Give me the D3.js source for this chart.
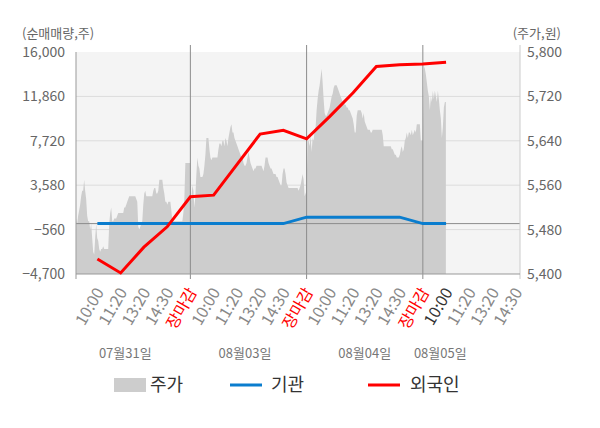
<!DOCTYPE html>
<html>
<head>
<meta charset="utf-8">
<script src="https://cdn.jsdelivr.net/npm/d3@7"></script>
<style>
  body { margin: 0; background: #fff; }
  text { font-family: "Noto Sans CJK KR", "Noto Sans", sans-serif; }
</style>
</head>
<body>
<div class="container"></div>
<script>
// 주가 (price), one array per trading day, roughly one point per pixel column
const day1Prices = [
  5500, 5490, 5505, 5515, 5525, 5540, 5550, 5550, 5570, 5550, 5535, 5505, 5495, 5495, 5480, 5490,
  5465, 5440, 5435, 5465, 5490, 5465, 5460, 5445, 5440, 5445, 5445, 5450, 5445, 5445, 5445, 5445,
  5445, 5490, 5510, 5520, 5495, 5495, 5500, 5500, 5500, 5505, 5510, 5510, 5510, 5510, 5510, 5510,
  5520, 5520, 5525, 5530, 5535, 5540, 5540, 5540, 5540, 5540, 5540, 5540, 5535, 5530, 5485, 5480,
  5485, 5490, 5495, 5525, 5545, 5550, 5540, 5540, 5540, 5540, 5540, 5540, 5540, 5550, 5555, 5555,
  5545, 5545, 5550, 5570, 5570, 5570, 5570, 5555, 5545, 5530, 5530, 5525, 5530, 5530, 5530, 5515,
  5495, 5495, 5495, 5495, 5495, 5495, 5495, 5495, 5495, 5495, 5495, 5510, 5535, 5600, 5600, 5600,
  5600, 5600, 5600
];
const day2Prices = [
  5530, 5560, 5550, 5520, 5540, 5580, 5610, 5595, 5590, 5575, 5575, 5575, 5580, 5595, 5615, 5645,
  5645, 5645, 5625, 5610, 5605, 5610, 5610, 5610, 5610, 5610, 5610, 5625, 5635, 5635, 5630, 5640,
  5640, 5630, 5645, 5640, 5630, 5645, 5655, 5665, 5670, 5655, 5655, 5645, 5640, 5635, 5630, 5625,
  5620, 5615, 5610, 5610, 5600, 5595, 5595, 5600, 5610, 5620, 5610, 5600, 5595, 5590, 5585, 5590,
  5590, 5595, 5595, 5595, 5595, 5595, 5595, 5590, 5585, 5595, 5610, 5610, 5610, 5600, 5595, 5590,
  5590, 5585, 5580, 5580, 5580, 5575, 5575, 5570, 5565, 5560, 5560, 5580, 5590, 5590, 5580, 5565,
  5560, 5555, 5555, 5555, 5555, 5555, 5555, 5555, 5555, 5555, 5555, 5550, 5555, 5560, 5570, 5580,
  5570, 5540, 5545, 5550
];
const day3Prices = [
  5640, 5640, 5630, 5650, 5620, 5645, 5640, 5660, 5665, 5695, 5715, 5730, 5740, 5755, 5770, 5745,
  5715, 5690, 5685, 5685, 5690, 5695, 5700, 5710, 5720, 5725, 5735, 5740, 5740, 5740, 5735, 5730,
  5725, 5720, 5715, 5710, 5710, 5705, 5705, 5700, 5700, 5695, 5695, 5690, 5685, 5680, 5670, 5655,
  5655, 5685, 5695, 5695, 5695, 5695, 5690, 5680, 5690, 5675, 5670, 5665, 5660, 5660, 5660, 5655,
  5655, 5660, 5660, 5660, 5660, 5660, 5660, 5660, 5660, 5660, 5660, 5650, 5630, 5630, 5630, 5630,
  5630, 5630, 5630, 5630, 5625, 5625, 5620, 5615, 5615, 5610, 5610, 5610, 5615, 5625, 5630, 5620,
  5625, 5640, 5645, 5655, 5645, 5655, 5655, 5650, 5660, 5650, 5655, 5660, 5655, 5670, 5670, 5670,
  5670, 5640, 5640, 5640
];
const day4Prices = [
  5775, 5770, 5760, 5745, 5730, 5720, 5695, 5720, 5710, 5730, 5715, 5730, 5720, 5710, 5730, 5715,
  5695, 5680, 5645, 5665, 5700, 5710, 5710
];

// x axis: 5 slots per day, slot 5 = 장마감
const slotLabels = [
  '10:00', '11:20', '13:20', '14:30', '장마감',
  '10:00', '11:20', '13:20', '14:30', '장마감',
  '10:00', '11:20', '13:20', '14:30', '장마감',
  '10:00', '11:20', '13:20', '14:30'
];
const currentSlot = 16;
const dateLabels = ['07월31일', '08월03일', '08월04일', '08월05일'];
const dateSlots = [2.2, 7.35, 12.5, 15.75];

// 순매매량 (net buying), one value per labelled slot 1..16
const lineSlots = d3.range(1, 17);
const foreign = [-3300, -4600, -2200, -300, 2500, 2650, 5500, 8350, 8700, 7900, 10000, 12200, 14650, 14800, 14880, 15050];
const institution = [0, 0, 0, 0, 0, 0, 0, 0, 0, 600, 600, 600, 600, 600, 0, 0];

const leftTicks = [-4700, -560, 3580, 7720, 11860, 16000];
const rightTicks = [5400, 5480, 5560, 5640, 5720, 5800];

const width = 600;
const height = 428;
const plot = { left: 76, right: 520, top: 52, bottom: 274 };
const pointsPerDay = 116;

const x = d3.scaleLinear().domain([0.08, 19.18]).range([plot.left, plot.right]);
const yL = d3.scaleLinear().domain([-4700, 16000]).range([plot.bottom, plot.top]);
const yR = d3.scaleLinear().domain([5400, 5800]).range([plot.bottom, plot.top]);

// place each day's prices on the slot axis
const step = 5 / pointsPerDay;
const days = [day1Prices, day2Prices, day3Prices, day4Prices];
const prices = [];
days.forEach((arr, d) => {
  const n = arr.length;
  arr.forEach((p, i) => {
    const s = d < 3 ? 5 * (d + 1) - (n - 1 - i) * step : 5 * d + (i + 1) * step;
    prices.push({ s, p });
  });
});

const svg = d3.select('.container')
  .append('svg')
  .attr('width', width)
  .attr('height', height)
  .style('display', 'block');

svg.append('rect')
  .attr('x', plot.left).attr('y', plot.top)
  .attr('width', plot.right - plot.left).attr('height', plot.bottom - plot.top)
  .attr('fill', '#f4f4f4');

// grid
svg.append('g')
  .selectAll('line')
  .data(leftTicks.slice(1, -1))
  .enter()
  .append('line')
  .attr('x1', plot.left).attr('x2', plot.right)
  .attr('y1', d => yL(d)).attr('y2', d => yL(d))
  .attr('stroke', '#dcdcdc');

// price area
const area = d3.area()
  .x(d => x(d.s))
  .y0(plot.bottom)
  .y1(d => yR(d.p));

svg.append('path')
  .attr('d', area(prices))
  .attr('fill', '#cdcdcd');

// zero line
svg.append('line')
  .attr('x1', plot.left).attr('x2', plot.right)
  .attr('y1', yL(0)).attr('y2', yL(0))
  .attr('stroke', '#8c8c8c');

// day separators
svg.append('g')
  .selectAll('line')
  .data([5, 10, 15])
  .enter()
  .append('line')
  .attr('x1', d => x(d)).attr('x2', d => x(d))
  .attr('y1', plot.top - 7).attr('y2', plot.bottom + 5)
  .attr('stroke', '#8c8c8c');

// frame
svg.append('line')
  .attr('x1', plot.left).attr('x2', plot.left)
  .attr('y1', plot.top).attr('y2', plot.bottom + 5)
  .attr('stroke', '#999');
svg.append('line')
  .attr('x1', plot.right).attr('x2', plot.right)
  .attr('y1', plot.top - 7).attr('y2', plot.bottom + 5)
  .attr('stroke', '#ccc');
svg.append('line')
  .attr('x1', plot.left).attr('x2', plot.right)
  .attr('y1', plot.bottom).attr('y2', plot.bottom)
  .attr('stroke', '#999');

// lines
const line = d3.line().x((d, i) => x(lineSlots[i])).y(d => yL(d));

svg.append('path')
  .attr('d', line(institution))
  .attr('fill', 'none')
  .attr('stroke', '#0a7dce')
  .attr('stroke-width', 3);

svg.append('path')
  .attr('d', line(foreign))
  .attr('fill', 'none')
  .attr('stroke', '#ff0000')
  .attr('stroke-width', 3);

// y axes
const fmt = d3.format(',');
const axisL = svg.append('g')
  .attr('transform', `translate(${plot.left},0)`)
  .call(d3.axisLeft(yL).tickValues(leftTicks).tickSize(0).tickPadding(11).tickFormat(fmt));
const axisR = svg.append('g')
  .attr('transform', `translate(${plot.right},0)`)
  .call(d3.axisRight(yR).tickValues(rightTicks).tickSize(0).tickPadding(7).tickFormat(fmt));
[axisL, axisR].forEach(g => {
  g.select('.domain').remove();
  g.selectAll('text')
    .attr('fill', '#666')
    .style('font-size', '14px')
    .style('font-family', '"Noto Sans CJK KR", "Noto Sans", sans-serif');
});

svg.append('text')
  .attr('x', 22).attr('y', 33).attr('dy', '0.35em')
  .attr('fill', '#666').style('font-size', '13px')
  .text('(순매매량,주)');
svg.append('text')
  .attr('x', 561).attr('y', 33).attr('dy', '0.35em')
  .attr('text-anchor', 'end')
  .attr('fill', '#666').style('font-size', '13px')
  .text('(주가,원)');

// x labels
svg.append('g')
  .selectAll('text')
  .data(slotLabels)
  .enter()
  .append('text')
  .attr('transform', (d, i) => `translate(${x(i + 1) + 7},292) rotate(-60)`)
  .attr('text-anchor', 'end')
  .attr('fill', (d, i) => d === '장마감' ? '#ff0000' : (i + 1 === currentSlot ? '#333' : '#888'))
  .style('font-size', '16px')
  .text(d => d);

svg.append('g')
  .selectAll('text')
  .data(dateLabels)
  .enter()
  .append('text')
  .attr('x', (d, i) => x(dateSlots[i]))
  .attr('y', 353)
  .attr('dy', '0.35em')
  .attr('text-anchor', 'middle')
  .attr('fill', '#777')
  .style('font-size', '13px')
  .text(d => d);

// legend
const legend = svg.append('g').style('font-size', '18px');
legend.append('rect')
  .attr('x', 114).attr('y', 378).attr('width', 32).attr('height', 14)
  .attr('fill', '#cdcdcd');
legend.append('text').attr('x', 150).attr('y', 385).attr('dy', '0.35em').attr('fill', '#333').text('주가');
legend.append('line')
  .attr('x1', 230).attr('x2', 262).attr('y1', 385).attr('y2', 385)
  .attr('stroke', '#0a7dce').attr('stroke-width', 3);
legend.append('text').attr('x', 271).attr('y', 385).attr('dy', '0.35em').attr('fill', '#333').text('기관');
legend.append('line')
  .attr('x1', 368).attr('x2', 400).attr('y1', 385).attr('y2', 385)
  .attr('stroke', '#ff0000').attr('stroke-width', 3);
legend.append('text').attr('x', 410).attr('y', 385).attr('dy', '0.35em').attr('fill', '#333').text('외국인');
</script>
</body>
</html>
